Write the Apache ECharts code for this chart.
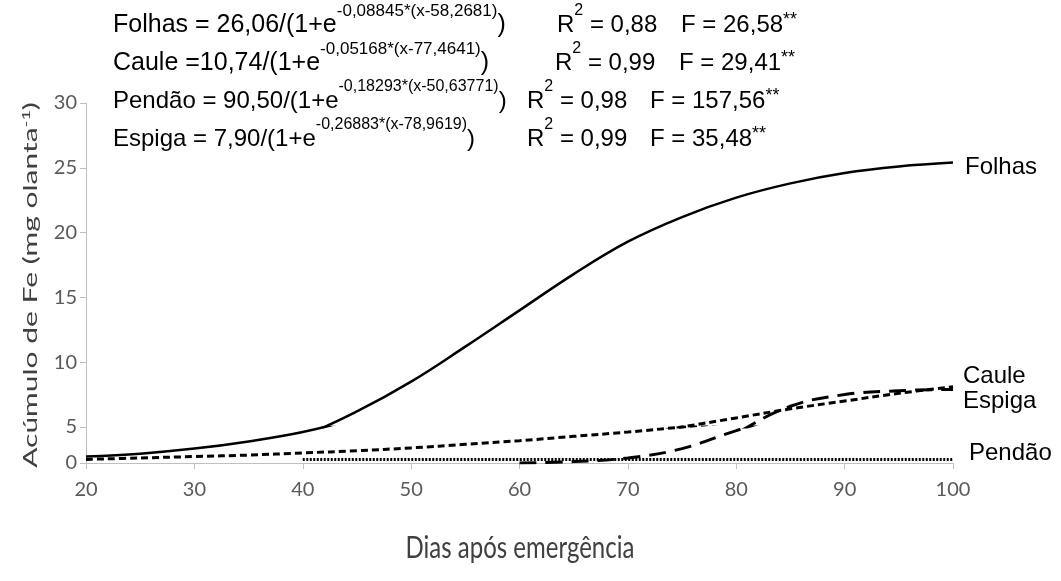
<!DOCTYPE html>
<html>
<head>
<meta charset="utf-8">
<script src="https://cdn.jsdelivr.net/npm/echarts@6/dist/echarts.min.js"></script>
<style>
html,body{margin:0;padding:0;background:#fff;}
#chart{width:1061px;height:581px;}
</style>
</head>
<body>
<div id="chart"></div>
<script>
// ---- data ----
const days = [20, 25, 30, 35, 40, 45, 50, 55, 60, 65, 70, 75, 80, 85, 90, 95, 100];
const folhas = [0.9, 1.3, 2.0, 3.0, 4.3, 6.2, 8.5, 11.2, 14.0, 16.8, 19.3, 21.2, 22.7, 23.8, 24.6, 25.1, 25.4];
const caule = [0.5, 0.7, 0.9, 1.1, 1.4, 1.7, 2.1, 2.6, 3.1, 3.7, 4.3, 5.0, 5.7, 6.4, 7.0, 7.6, 8.1];
const espigaDays = [60, 65, 70, 75, 80, 85, 90, 95, 100];
const espiga = [0.0, 0.2, 0.7, 2.0, 4.5, 6.6, 7.5, 7.8, 7.9];
const pendaoDays = [40, 50, 60, 70, 80, 90, 100];
const pendao = [0.5, 0.5, 0.5, 0.5, 0.5, 0.5, 0.5];
const xTicks = [20, 30, 40, 50, 60, 70, 80, 90, 100];
const yTicksUpper = [5, 10, 15, 20, 25, 30];
const yTicksLower = [0];

const eqNames = ['Folhas = 26,06/(1+e', 'Caule =10,74/(1+e', 'Pendão = 90,50/(1+e', 'Espiga = 7,90/(1+e'];
const eqExps = ['-0,08845*(x-58,2681)', '-0,05168*(x-77,4641)', '-0,18293*(x-50,63771)', '-0,26883*(x-78,9619)'];
const r2 = ['0,88', '0,99', '0,98', '0,99'];
const fVals = ['26,58', '29,41', '157,56', '35,48'];
const endNames = ['Folhas', 'Caule', 'Espiga', 'Pendão'];

const pair = (xs, ys) => xs.map((x, i) => [x, ys[i]]);

const FONT = "'Liberation Sans', Arial, sans-serif";
const AXFONT = "Lato, 'Liberation Sans Narrow', sans-serif";
const MAIN = 24, RAISE = 14;

const mctx = document.createElement('canvas').getContext('2d');
function tw(text, size) { mctx.font = size + 'px ' + FONT; return mctx.measureText(text).width; }

const graphics = [];
function txt(x, y, text, size) {
  graphics.push({ type: 'text', x: x, y: y, style: { text: text, fontSize: size, fontFamily: FONT, fill: '#000', verticalAlign: 'middle', align: 'left' } });
}
// sequence of [text, size, raise]
function seq(x, y, parts) {
  let cx = x;
  parts.forEach(p => {
    txt(cx, y - p[2], p[0], p[1]);
    cx += tw(p[0], p[1]);
  });
}

const eqLeft = [113, 113, 113, 113];
const eqMain = [25, 25, 24, 24];
const eqSup = [17, 17, 16, 16];
const r2Left = [557, 555, 527, 527];
const fLeft = [681, 679, 650, 650];
const rowY = [25, 63, 101, 139];

for (let i = 0; i < 4; i++) {
  seq(eqLeft[i], rowY[i], [[eqNames[i], eqMain[i], 0], [eqExps[i], eqSup[i], RAISE], [')', eqMain[i], 0]]);
  seq(r2Left[i], rowY[i], [['R', MAIN, 0], ['2', 16, RAISE], [' = ' + r2[i], MAIN, 0]]);
  seq(fLeft[i], rowY[i], [['F = ' + fVals[i], MAIN, 0], ['**', 18, 5]]);
}
const endPos = [[965, 167], [963, 376], [963, 401], [969, 453]];
endNames.forEach((t, i) => txt(endPos[i][0], endPos[i][1], t, MAIN));

// y axis title (rotated)
graphics.push({
  type: 'text', x: 31, y: 285, rotation: Math.PI / 2, scaleX: 1.5,
  style: {
    text: '{t|Acúmulo de Fe (mg olanta}{u|-1}{t|)}', align: 'center', verticalAlign: 'middle',
    rich: {
      t: { fontSize: 20, fontFamily: AXFONT, fill: '#404040' },
      u: { fontSize: 12, fontFamily: AXFONT, fill: '#404040', padding: [0, 0, 9, 0] }
    }
  }
});
// x axis title
graphics.push({
  type: 'text', x: 520, y: 548, scaleY: 1.25,
  style: { text: 'Dias após emergência', fontSize: 24, fontFamily: AXFONT, fill: '#404040', align: 'center', verticalAlign: 'middle' }
});

// broken value axis: upper part 5-30, lower compressed part 0-5
const axisLine = { show: true, lineStyle: { color: '#BFBFBF', width: 1 } };
const axisTick = { show: true, length: 6, lineStyle: { color: '#BFBFBF' } };
const labelBase = { color: '#595959', fontSize: 20, fontFamily: AXFONT };

const seriesDefs = [
  { name: 'Folhas', data: pair(days, folhas), smooth: 0.4, lineStyle: { color: '#000', width: 2.5, type: 'solid' } },
  { name: 'Caule', data: pair(days, caule), smooth: 0.4, lineStyle: { color: '#000', width: 3, type: [7, 4] } },
  { name: 'Espiga', data: pair(espigaDays, espiga), smooth: 0.4, lineStyle: { color: '#000', width: 3, type: [17, 9] } },
  { name: 'Pendão', data: pair(pendaoDays, pendao), smooth: false, lineStyle: { color: '#000', width: 3, type: [2, 1.5] } }
];
const series = [];
[0, 1].forEach(g => {
  seriesDefs.forEach(s => {
    series.push({ name: s.name, type: 'line', xAxisIndex: g, yAxisIndex: g, data: s.data, smooth: s.smooth,
      showSymbol: false, clip: true, lineStyle: s.lineStyle });
  });
});

const chart = echarts.init(document.getElementById('chart'), null, { renderer: 'canvas' });
chart.setOption({
  animation: false,
  backgroundColor: '#fff',
  grid: [
    { left: 86, right: 108, top: 103, height: 324, containLabel: false },
    { left: 86, right: 108, top: 427, height: 36, containLabel: false }
  ],
  xAxis: [
    { gridIndex: 0, type: 'value', min: 20, max: 100, interval: 10,
      axisLine: { show: false }, axisTick: { show: false }, axisLabel: { show: false }, splitLine: { show: false } },
    { gridIndex: 1, type: 'value', min: 20, max: 100, interval: 10,
      axisLine: axisLine, axisTick: axisTick, splitLine: { show: false },
      axisLabel: Object.assign({ margin: 17, formatter: v => xTicks.includes(v) ? String(v) : '' }, labelBase) }
  ],
  yAxis: [
    { gridIndex: 0, type: 'value', min: 5, max: 30, interval: 5,
      axisLine: axisLine, axisTick: axisTick, splitLine: { show: false },
      axisLabel: Object.assign({ margin: 9, formatter: v => yTicksUpper.includes(v) ? String(v) : '' }, labelBase) },
    { gridIndex: 1, type: 'value', min: 0, max: 5, interval: 5,
      axisLine: axisLine, axisTick: axisTick, splitLine: { show: false },
      axisLabel: Object.assign({ margin: 9, formatter: v => yTicksLower.includes(v) ? String(v) : '' }, labelBase) }
  ],
  series: series,
  graphic: graphics
});
</script>
</body>
</html>
